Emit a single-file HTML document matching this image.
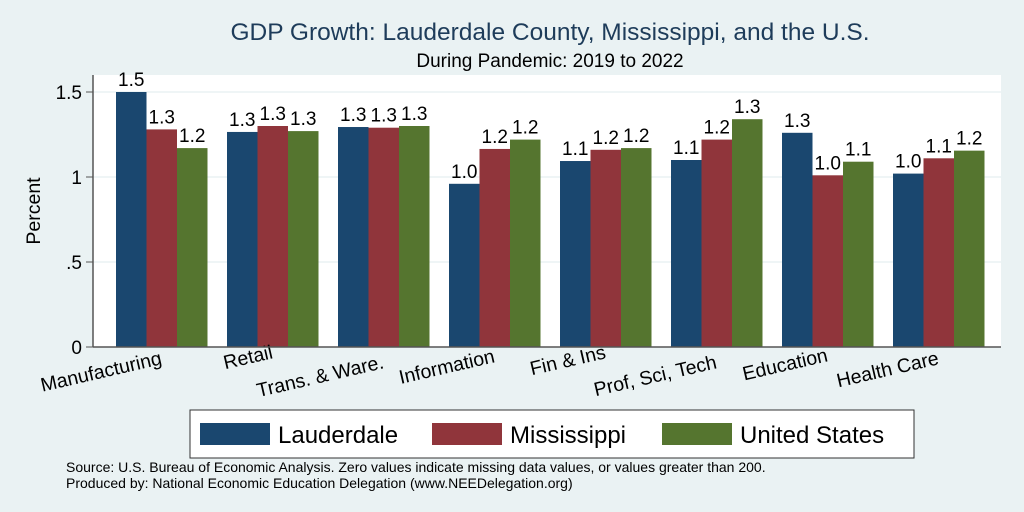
<!DOCTYPE html>
<html><head><meta charset="utf-8"><style>
body{margin:0;background:#eaf2f3;}
svg{display:block;font-family:"Liberation Sans",sans-serif;}
</style></head><body>
<svg id="chart" width="1024" height="512">
<rect x="0" y="0" width="1024" height="512" fill="#eaf2f3"/>
<rect x="93" y="75" width="908" height="272" fill="#ffffff"/>
<text x="550" y="40" text-anchor="middle" font-size="24.5" fill="#1e3c5a">GDP Growth: Lauderdale County, Mississippi, and the U.S.</text>
<text x="550" y="67" text-anchor="middle" font-size="19" fill="#000">During Pandemic: 2019 to 2022</text>
<text x="40" y="211" text-anchor="middle" font-size="19.5" transform="rotate(-90 40 211)">Percent</text>
<g id="grid"></g><g id="bars"></g><g id="xlabels"></g>
<line x1="93" y1="75" x2="93" y2="347" stroke="#555" stroke-width="1.5"/>
<line x1="93" y1="347" x2="1001" y2="347" stroke="#555" stroke-width="1.5"/>
<rect x="190" y="410" width="724" height="48" fill="#fff" stroke="#333" stroke-width="1"/>
<g><rect x="200" y="423" width="70" height="22" fill="#1a476f"/><text x="278" y="443" font-size="24">Lauderdale</text></g>
<g><rect x="432" y="423" width="70" height="22" fill="#90353b"/><text x="510" y="443" font-size="24">Mississippi</text></g>
<g><rect x="662" y="423" width="70" height="22" fill="#55752f"/><text x="740" y="443" font-size="24">United States</text></g>
<text x="66" y="472" font-size="14">Source: U.S. Bureau of Economic Analysis. Zero values indicate missing data values, or values greater than 200.</text>
<text x="66" y="488" font-size="14">Produced by: National Economic Education Delegation (www.NEEDelegation.org)</text>
</svg>
<script>
const categories=["Manufacturing","Retail","Trans. & Ware.","Information","Fin & Ins","Prof, Sci, Tech","Education","Health Care"];
const lauderdale=[1.50,1.265,1.294,0.96,1.094,1.10,1.26,1.02];
const mississippi=[1.28,1.30,1.29,1.165,1.16,1.22,1.01,1.11];
const unitedStates=[1.17,1.27,1.30,1.22,1.17,1.34,1.09,1.155];
const yTicks=[0,0.5,1,1.5];
const yTickLabels=["0",".5","1","1.5"];
const NS="http://www.w3.org/2000/svg";
const y=v=>347-v*170;
const groupX=i=>116+i*111;
const bw=30.5;
const labelBase=[364,358,368,362,358,368,361,364];
function mk(t,a,p){const e=document.createElementNS(NS,t);for(const k in a)e.setAttribute(k,a[k]);p.appendChild(e);return e;}
const grid=document.getElementById('grid');
yTicks.forEach((v,i)=>{
 if(v>0){const g=mk('line',{x1:93,x2:1001,y1:y(v),y2:y(v),stroke:'#eaf2f3','stroke-width':1.5},grid);
 
 }
 const tk=mk('line',{x1:86,x2:93,y1:y(v),y2:y(v),stroke:'#555'},grid);
 
 
 const t=mk('text',{x:82,y:y(v)+7,'text-anchor':'end','font-size':19},grid);t.textContent=yTickLabels[i];
 
 
});
const bars=document.getElementById('bars');
const series=[lauderdale,mississippi,unitedStates];const cols=["#1a476f","#90353b","#55752f"];const sn=["lauderdale","mississippi","us"];
categories.forEach((c,i)=>{
 series.forEach((s,j)=>{
  const x=groupX(i)+j*bw,v=s[i];
  const r=mk('rect',{x:x,y:y(v),width:bw,height:v*170,fill:cols[j]},bars);
  
  
  const t=mk('text',{x:x+bw/2,y:y(v)-6,'text-anchor':'middle','font-size':19},bars);t.textContent=(Math.round(v*10)/10).toFixed(1);
  
  
 });
 const cx=groupX(i)+bw*1.5+1, by=labelBase[i];
 const t=mk('text',{x:cx,y:by,'text-anchor':'end','font-size':19.5,transform:`rotate(-13 ${cx} ${by})`},document.getElementById('xlabels'));
 t.textContent=c;
 
 
});
</script>
</body></html>
